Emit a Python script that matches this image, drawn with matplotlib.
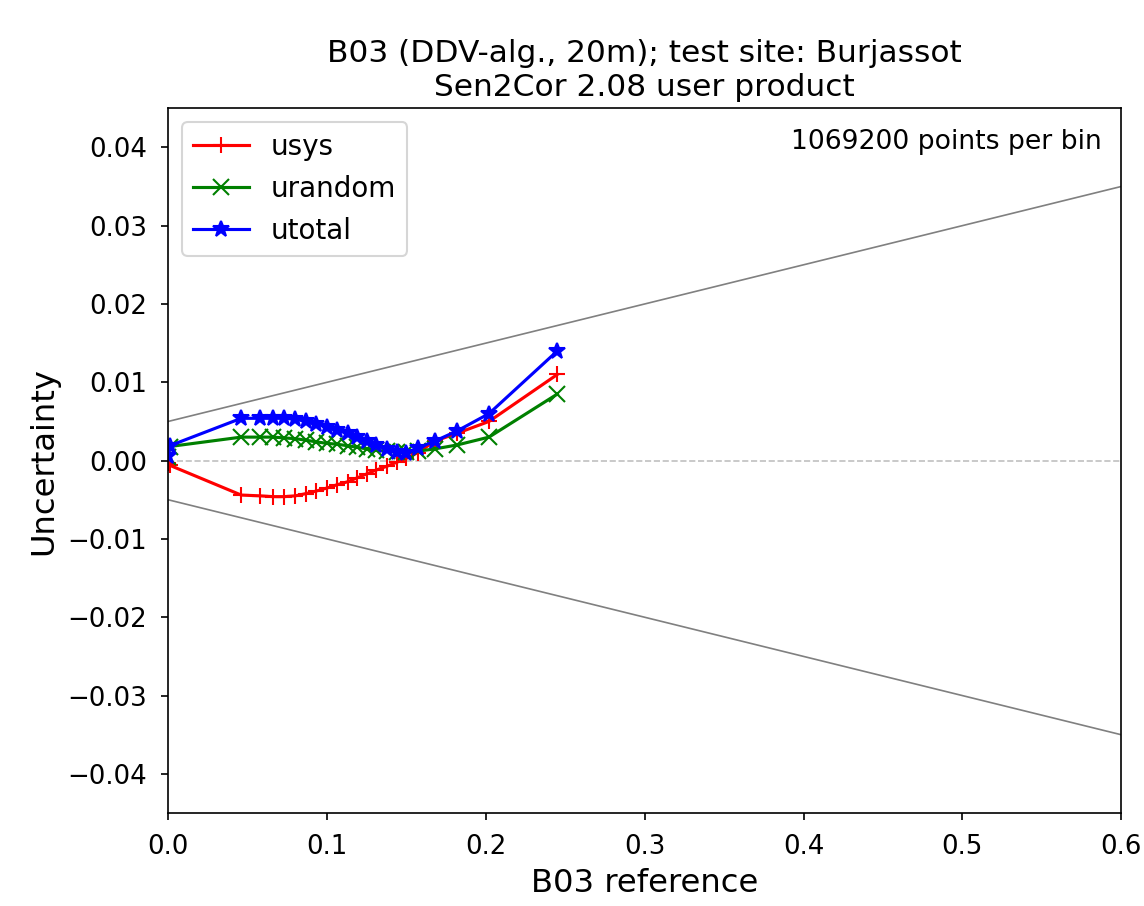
import matplotlib
matplotlib.use('Agg')
import matplotlib.pyplot as plt
import numpy as np

x_ref = [0.0, 0.001, 0.046, 0.058, 0.066, 0.073, 0.080, 0.087, 0.093, 0.100, 0.106, 0.113,
         0.119, 0.125, 0.131, 0.138, 0.144, 0.150, 0.157, 0.168, 0.182, 0.202, 0.245]
usys = [-0.0003, -0.0006, -0.0044, -0.0045, -0.0046, -0.0046, -0.0045, -0.0042, -0.0039,
        -0.0035, -0.0031, -0.0027, -0.0022, -0.0017, -0.0012, -0.0007, -0.0002, 0.0003,
        0.0010, 0.0025, 0.0035, 0.0050, 0.0110]
urandom = [0.0005, 0.0018, 0.0030, 0.0030, 0.0030, 0.0029, 0.0028, 0.0026, 0.0024, 0.0022,
           0.0021, 0.0019, 0.0017, 0.0015, 0.0013, 0.0012, 0.0011, 0.0011, 0.0012, 0.0015,
           0.0020, 0.0030, 0.0085]
utotal = [0.0006, 0.0019, 0.0054, 0.0054, 0.0054, 0.0054, 0.0053, 0.0050, 0.0047, 0.0043,
          0.0039, 0.0035, 0.0030, 0.0025, 0.0020, 0.0015, 0.0011, 0.0010, 0.0016, 0.0025,
          0.0038, 0.0060, 0.0140]

# requirement envelope: 0.005 + 5% of reference
env_x = [0.0, 0.6]
env_up = [0.005, 0.035]
env_lo = [-0.005, -0.035]

fig = plt.figure(figsize=(7.627, 6.04), dpi=150)
ax = fig.add_axes([0.147, 0.1026, 0.833, 0.778])

ax.plot(env_x, env_up, color='gray', linewidth=0.8)
ax.plot(env_x, env_lo, color='gray', linewidth=0.8)
ax.axhline(0, color='silver', linestyle='--', linewidth=0.8)

ax.plot(x_ref, usys, color='r', marker='+', markersize=8, label='usys')
ax.plot(x_ref, urandom, color='g', marker='x', markersize=8, label='urandom')
ax.plot(x_ref, utotal, color='b', marker='*', markersize=8, label='utotal')

ax.set_xlim(0, 0.6)
ax.set_ylim(-0.045, 0.045)
ax.set_yticks([-0.04, -0.03, -0.02, -0.01, 0.0, 0.01, 0.02, 0.03, 0.04])
ax.tick_params(labelsize=12.5, pad=6.5)
ax.set_xlabel('B03 reference', fontsize=15.5)
ax.set_ylabel('Uncertainty', fontsize=15.5)
ax.set_title('B03 (DDV-alg., 20m); test site: Burjassot\nSen2Cor 2.08 user product', fontsize=15)
ax.text(0.98, 0.97, '1069200 points per bin', transform=ax.transAxes, ha='right', va='top', fontsize=12.8)
ax.legend(loc='upper left', fontsize=13.3)

plt.savefig('out.png', dpi=150)
